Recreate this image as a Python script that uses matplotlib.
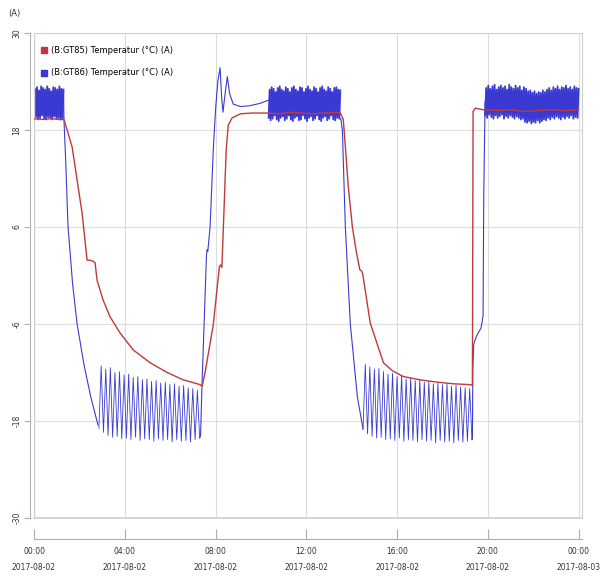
import numpy as np
import matplotlib.pyplot as plt
from matplotlib.lines import Line2D

# ================== data ==================
xtick_hours = [0, 4, 8, 12, 16, 20, 24]
xtick_labels = ['00:00\n2017-08-02', '04:00\n2017-08-02', '08:00\n2017-08-02',
                '12:00\n2017-08-02', '16:00\n2017-08-02', '20:00\n2017-08-02',
                '00:00\n2017-08-03']
ytick_vals = [-30, -18, -6, 6, 18, 30]
series_labels = ['(B:GT85) Temperatur (°C) (A)', '(B:GT86) Temperatur (°C) (A)']

# GT85 (red), hours since 00:00
gt85_t = [0.0, 0.4, 0.8, 1.1, 1.32, 1.46, 1.68, 1.90, 2.12, 2.34, 2.45, 2.58, 2.69, 2.78, 3.04,
          3.35, 3.79, 4.37, 5.12, 5.87, 6.57, 7.32, 7.41, 7.54, 7.90, 8.17, 8.22, 8.28, 8.33, 8.47,
          8.56, 8.73, 9.09, 9.60, 10.32, 10.8, 11.3, 11.8, 12.3, 12.8, 13.3, 13.50, 13.63, 13.72, 13.85,
          14.03, 14.20, 14.36, 14.42, 14.48, 14.82, 15.40, 15.80, 16.28, 17.00, 17.78, 18.50, 19.23, 19.32,
          19.35, 19.45, 19.8, 20.4, 21.0, 21.6, 22.2, 22.8, 23.4, 24.0]
gt85_v = [19.4, 19.3, 19.4, 19.3, 19.3, 18.0, 15.9, 11.8, 7.7, 1.9, 1.9, 1.8, 1.6, -0.6, -3.0,
          -5.1, -7.1, -9.2, -10.8, -12.0, -12.9, -13.5, -13.7, -12.0, -6.1, 1.1, 1.3, 1.0, 4.8, 15.5,
          18.6, 19.5, 20.0, 20.1, 20.1, 20.0, 20.2, 20.1, 20.0, 20.1, 20.2, 20.1, 19.3, 16.0, 11.0,
          6.0, 3.0, 0.7, 0.6, 0.3, -5.9, -10.8, -11.8, -12.5, -12.9, -13.2, -13.4, -13.5, -13.6,
          20.3, 20.7, 20.5, 20.4, 20.5, 20.3, 20.4, 20.5, 20.4, 20.5]

# GT86 (blue): smooth parts as (t, v), oscillating parts as low/high readings over a span
blk1_span = (0.0, 1.30)
blk1_hi = [23.1, 23.3, 22.9, 23.4, 23.2, 23.0, 23.4, 23.1, 22.8, 23.3, 23.2, 23.0, 23.4, 23.1, 23.0]
blk1_lo = [19.4, 19.6, 19.3, 19.5, 19.8, 19.4, 19.3, 19.6, 19.5, 19.3, 19.7, 19.4, 19.5, 19.3, 19.4]

drop1_t = [1.32, 1.40, 1.50, 1.70, 1.90, 2.20, 2.50, 2.82]
drop1_v = [19.3, 14.0, 6.0, -1.0, -6.0, -11.0, -15.0, -18.5]

cold1_span = (2.86, 7.30)
cold1_lo = [-18.9, -19.4, -19.8, -20.0, -19.9, -20.2, -20.1, -20.3, -20.0, -20.4, -20.2, -20.3,
            -20.5, -20.2, -20.4, -20.3, -20.6, -20.3, -20.5, -20.4, -20.6, -20.3, -20.1]
cold1_hi = [-11.2, -11.6, -11.4, -12.0, -11.9, -12.3, -12.2, -12.6, -12.5, -12.9, -12.8,
            -13.1, -13.0, -13.3, -13.2, -13.5, -13.4, -13.7, -13.6, -13.9, -14.0, -14.2]

rise1_t = [7.30, 7.34, 7.41, 7.54, 7.60, 7.63, 7.66, 7.76, 7.90, 8.00, 8.10, 8.20, 8.27, 8.33, 8.40,
           8.52, 8.62, 8.78, 9.10, 9.50, 9.97, 10.34]
rise1_v = [-20.1, -19.8, -13.0, -2.5, 2.5, 3.2, 3.0, 6.0, 15.5, 20.5, 24.0, 25.7, 22.0, 20.2, 22.0,
           24.6, 22.5, 21.2, 20.9, 21.0, 21.3, 21.7]

blk2_span = (10.34, 13.50)
blk2_hi = [23.0, 23.3, 23.1, 22.7, 23.2, 23.4, 23.0, 22.8, 23.3, 23.1, 22.7, 23.2, 23.4, 23.0,
           22.8, 23.3, 23.2, 22.7, 23.1, 23.4, 23.0, 22.8, 23.3, 23.1, 22.7, 23.2, 23.4, 23.0,
           22.8, 23.3, 23.1, 22.7, 23.2, 23.3, 23.0, 22.9]
blk2_lo = [19.5, 19.2, 19.4, 19.8, 19.3, 19.1, 19.5, 19.7, 19.2, 19.4, 19.8, 19.3, 19.1, 19.5,
           19.7, 19.2, 19.3, 19.8, 19.4, 19.1, 19.5, 19.7, 19.2, 19.4, 19.8, 19.3, 19.1, 19.5,
           19.7, 19.2, 19.4, 19.8, 19.3, 19.2, 19.5, 19.4]

drop2_t = [13.50, 13.52, 13.59, 13.72, 13.94, 14.25, 14.47, 14.50]
drop2_v = [19.4, 19.4, 18.0, 6.0, -6.0, -15.0, -18.5, -19.0]

cold2_span = (14.50, 19.30)
cold2_lo = [-19.0, -19.6, -19.9, -20.1, -20.0, -20.3, -20.2, -20.4, -20.1, -20.5, -20.3, -20.4,
            -20.6, -20.3, -20.5, -20.4, -20.7, -20.4, -20.6, -20.5, -20.7, -20.4, -20.6, -20.5, -20.3]
cold2_hi = [-11.0, -11.3, -11.6, -11.5, -11.9, -12.2, -12.1, -12.5, -12.4, -12.8, -12.7, -13.0,
            -12.9, -13.2, -13.1, -13.4, -13.3, -13.5, -13.4, -13.7, -13.6, -13.8, -13.9, -14.0]

rise2_t = [19.30, 19.32, 19.34, 19.38, 19.50, 19.70, 19.79, 19.82, 19.88]
rise2_v = [-20.3, -20.2, -11.5, -8.5, -7.5, -6.5, -5.0, 10.0, 21.5]

blk3_span = (19.88, 24.0)
blk3_hi = [23.2, 23.5, 23.1, 23.4, 23.6, 23.0, 23.3, 23.5, 23.2, 23.4, 23.0, 23.6, 23.3, 23.1, 23.5,
           23.2, 23.4, 22.9, 23.3, 23.1, 22.8, 22.9, 22.6, 22.8, 22.5, 22.7, 22.6, 22.9, 22.7, 23.0,
           23.2, 22.9, 23.3, 23.1, 23.4, 23.0, 23.3, 23.2, 23.5, 23.1, 23.3, 23.0, 23.4, 23.2, 23.1]
blk3_lo = [19.8, 19.5, 19.9, 19.6, 19.4, 19.8, 19.5, 19.7, 19.9, 19.4, 19.7, 19.5, 19.8, 19.6, 19.4,
           19.7, 19.5, 19.3, 19.4, 19.0, 18.9, 19.1, 18.8, 19.0, 18.9, 19.2, 18.9, 19.1, 19.3, 19.2,
           19.5, 19.3, 19.6, 19.4, 19.7, 19.5, 19.3, 19.6, 19.4, 19.7, 19.5, 19.8, 19.4, 19.6, 19.5]


def zigzag(span, lo, hi):
    """interleave low/high readings evenly over a time span"""
    vals = []
    for i in range(min(len(lo), len(hi))):
        vals += [lo[i], hi[i]]
    if len(lo) > len(hi):
        vals.append(lo[-1])
    return list(np.linspace(span[0], span[1], len(vals))), vals


# (times, values, line width): warm blocks drawn heavier so they read as a solid band
gt86_parts = [
    (*zigzag(blk1_span, blk1_lo, blk1_hi), 1.3),
    ([blk1_span[1]] + drop1_t, [blk1_hi[-1]] + drop1_v, 0.8),
    (*zigzag(cold1_span, cold1_lo, cold1_hi), 0.6),
    (rise1_t, rise1_v, 0.8),
    (*zigzag(blk2_span, blk2_lo, blk2_hi), 1.3),
    (drop2_t, drop2_v, 0.8),
    (*zigzag(cold2_span, cold2_lo, cold2_hi), 0.6),
    (rise2_t, rise2_v, 0.8),
    (*zigzag(blk3_span, blk3_lo, blk3_hi), 1.3),
]

# ================== plot ==================
red = '#c0393b'
blue = '#3a3ad2'

fig = plt.figure(figsize=(6.01, 5.76), dpi=100)
ax = fig.add_axes([34/601, 58/576, 548/601, 485/576])

# spine positions first: moving a spine resets the tick formatting
ax.spines['left'].set_position(('outward', 3))
ax.spines['bottom'].set_position(('outward', 15))

for t, v, lw in gt86_parts:
    ax.plot(t, v, color=blue, lw=lw, zorder=2)
ax.plot(gt85_t, gt85_v, color=red, lw=1.0, zorder=3)

ax.set_xlim(0, 24.15)
ax.set_ylim(-30, 30)
ax.set_xticks(xtick_hours)
ax.set_xticklabels(xtick_labels, fontsize=5.5, color='#333333', linespacing=2.0)
ax.set_yticks(ytick_vals)
ax.set_yticklabels([str(v) for v in ytick_vals], fontsize=5.5, color='#333333',
                   rotation=90, va='center')
ax.grid(True, color='#dcdcdc', lw=0.8)
ax.set_axisbelow(True)

for side in ['top', 'right']:
    ax.spines[side].set_color('#cfcfcf')
ax.spines['left'].set_color('#a8b0b8')
ax.spines['bottom'].set_color('#a8b0b8')
ax.axhline(-30, color='#cfcfcf', lw=1.2, clip_on=False)
ax.axvline(0, color='#cfcfcf', lw=1.0)
ax.tick_params(axis='x', direction='in', length=7, color='#a8b0b8', pad=6)
ax.tick_params(axis='y', direction='out', length=4, color='#a8b0b8', pad=2)

handles = [Line2D([], [], ls='', marker='s', ms=5, color=red),
           Line2D([], [], ls='', marker='s', ms=5, color=blue)]
ax.legend(handles, series_labels, loc='upper left', bbox_to_anchor=(0.0, 0.985),
          frameon=False, fontsize=6, labelspacing=1.6, handletextpad=0.3,
          handlelength=1.0, borderaxespad=0.3)

fig.text(8/601, 1 - 16/576, '(A)', fontsize=6, color='#333333')

plt.savefig('out.png', dpi=100)
